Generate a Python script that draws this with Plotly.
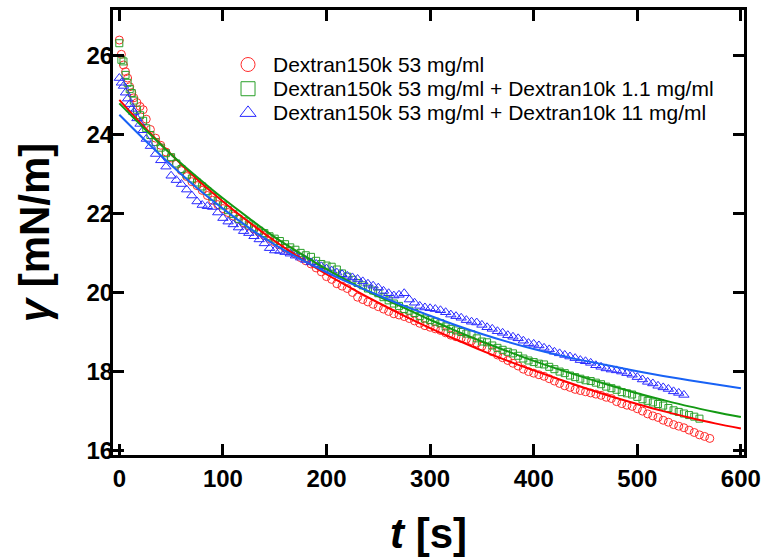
import plotly.graph_objects as go

# ---------------- data ----------------
t_samples = [0, 2, 4, 6, 8, 10, 12, 14, 17, 20, 23, 26, 30, 35, 40, 45, 50, 55, 60, 65,
             70, 75, 80, 85, 90, 95, 100, 105, 110, 115, 120, 125, 130, 135, 140, 145,
             150, 155, 160, 165, 170, 175, 180, 185, 190, 195, 200, 205, 210, 215, 220,
             225, 230, 235, 240, 245, 250, 255, 260, 265, 270, 275, 280, 285, 290, 295,
             300, 305, 310, 315, 320, 325, 330, 335, 340, 345, 350, 355, 360, 365, 370,
             375, 380, 385, 390, 395, 400, 405, 410, 415, 420, 425, 430, 435, 440, 445,
             450, 455, 460, 465, 470, 475, 480, 485, 490, 495, 500, 505, 510, 515, 520,
             525, 530, 535, 540, 545, 550, 555, 560, 565, 570, 575]

gamma_red = [26.38, 26.02, 25.75, 25.58, 25.42, 25.20, 25.05, 24.92, 24.80, 24.70, 24.62,
             24.38, 24.12, 23.90, 23.72, 23.55, 23.40, 23.24, 23.08, 22.93, 22.80, 22.70,
             22.58, 22.45, 22.33, 22.22, 22.12, 22.02, 21.93, 21.85, 21.76, 21.68, 21.60,
             21.52, 21.44, 21.36, 21.28, 21.20, 21.12, 21.05, 20.97, 20.88, 20.80, 20.72,
             20.62, 20.52, 20.40, 20.33, 20.22, 20.16, 20.10, 20.00, 19.88, 19.82, 19.76,
             19.70, 19.64, 19.58, 19.52, 19.46, 19.43, 19.39, 19.34, 19.28, 19.22, 19.16,
             19.12, 19.08, 19.04, 18.98, 18.92, 18.88, 18.84, 18.82, 18.78, 18.72, 18.64,
             18.58, 18.50, 18.42, 18.35, 18.28, 18.21, 18.14, 18.06, 18.00, 17.96, 17.92,
             17.88, 17.82, 17.76, 17.70, 17.64, 17.60, 17.55, 17.52, 17.49, 17.46, 17.43,
             17.40, 17.35, 17.32, 17.24, 17.19, 17.15, 17.12, 17.06, 17.00, 16.93, 16.88,
             16.84, 16.77, 16.72, 16.66, 16.62, 16.58, 16.52, 16.46, 16.40, 16.36, 16.31]

gamma_green = [26.30, 25.88, 25.84, 25.50, 25.30, 25.14, 25.04, 24.85, 24.62, 24.48, 24.34,
               24.15, 23.98, 23.80, 23.66, 23.52, 23.42, 23.26, 23.12, 22.98, 22.88, 22.78,
               22.68, 22.56, 22.42, 22.32, 22.20, 22.08, 21.98, 21.86, 21.80, 21.72, 21.64,
               21.56, 21.50, 21.42, 21.36, 21.30, 21.22, 21.14, 21.08, 21.00, 20.94, 20.90,
               20.80, 20.72, 20.68, 20.65, 20.58, 20.48, 20.40, 20.32, 20.24, 20.18, 20.10,
               20.05, 19.98, 19.88, 19.80, 19.72, 19.66, 19.58, 19.54, 19.48, 19.40, 19.34,
               19.30, 19.26, 19.22, 19.14, 19.08, 19.04, 19.00, 18.96, 18.94, 18.84, 18.76,
               18.74, 18.66, 18.60, 18.55, 18.50, 18.46, 18.40, 18.33, 18.28, 18.24, 18.20,
               18.18, 18.12, 18.06, 18.00, 17.96, 17.90, 17.86, 17.82, 17.78, 17.76, 17.72,
               17.68, 17.62, 17.58, 17.54, 17.48, 17.45, 17.42, 17.36, 17.30, 17.26, 17.22,
               17.18, 17.14, 17.08, 17.02, 16.98, 16.94, 16.90, 16.86, 16.81]

gamma_blue = [25.42, 25.30, 25.22, 25.05, 24.90, 24.76, 24.64, 24.56, 24.40, 24.26, 24.10,
              23.88, 23.70, 23.50, 23.34, 23.18, 22.95, 22.84, 22.74, 22.60, 22.45, 22.30,
              22.21, 22.18, 22.16, 22.02, 21.88, 21.79, 21.72, 21.64, 21.55, 21.50, 21.42,
              21.34, 21.24, 21.12, 21.06, 21.05, 21.02, 20.98, 20.93, 20.88, 20.82, 20.76,
              20.72, 20.66, 20.60, 20.55, 20.50, 20.46, 20.42, 20.38, 20.34, 20.28, 20.22,
              20.17, 20.12, 20.04, 19.98, 19.92, 19.94, 19.98, 19.82, 19.74, 19.66, 19.62,
              19.60, 19.58, 19.55, 19.50, 19.44, 19.40, 19.36, 19.30, 19.26, 19.24, 19.18,
              19.12, 19.08, 19.02, 18.98, 18.92, 18.88, 18.84, 18.78, 18.72, 18.70, 18.66,
              18.60, 18.56, 18.50, 18.46, 18.42, 18.38, 18.34, 18.29, 18.26, 18.22, 18.16,
              18.12, 18.08, 18.05, 18.03, 18.00, 17.96, 17.92, 17.86, 17.80, 17.74, 17.70,
              17.64, 17.60, 17.56, 17.50, 17.46, 17.41]

t_fit = [0, 25, 50, 75, 100, 125, 150, 175, 200, 225, 250, 275, 300, 325, 350, 375,
         400, 425, 450, 475, 500, 525, 550, 575, 600]
fit_red = [24.87, 24.16, 23.49, 22.86, 22.30, 21.78, 21.30, 20.86, 20.46, 20.09, 19.74,
           19.41, 19.10, 18.81, 18.53, 18.27, 18.03, 17.80, 17.58, 17.37, 17.18, 17.00,
           16.84, 16.69, 16.56]
fit_green = [24.78, 24.12, 23.49, 22.92, 22.38, 21.88, 21.40, 20.98, 20.59, 20.23, 19.90,
             19.61, 19.31, 19.03, 18.76, 18.51, 18.27, 18.05, 17.84, 17.64, 17.45, 17.28,
             17.12, 16.98, 16.85]
fit_blue = [24.49, 23.84, 23.22, 22.64, 22.12, 21.64, 21.21, 20.84, 20.51, 20.21, 19.93,
            19.66, 19.41, 19.17, 18.95, 18.75, 18.57, 18.41, 18.27, 18.14, 18.01, 17.89,
            17.78, 17.68, 17.58]

labels = ["Dextran150k 53 mg/ml",
          "Dextran150k 53 mg/ml + Dextran10k 1.1 mg/ml",
          "Dextran150k 53 mg/ml + Dextran10k 11 mg/ml"]

x_ticks = [0, 100, 200, 300, 400, 500, 600]
y_ticks = [16, 18, 20, 22, 24, 26]

# ---------------- styles ----------------
marker_colors = ["#ff2a2a", "#2aa02a", "#2a2aff"]
line_colors = ["#ff0000", "#139913", "#1862f5"]
symbols = ["circle-open", "square-open", "triangle-up-open"]
sizes = [8, 7, 9]
FONT = "Arial, Liberation Sans, sans-serif"

# legend key layout (fractions of the plot area)
LEG_SYM_X = 0.214
LEG_TXT_X = 0.2525
LEG_ROWS_Y = [0.8775, 0.8231, 0.7688]

series = [gamma_red, gamma_green, gamma_blue]
fits = [fit_red, fit_green, fit_blue]

fig = go.Figure()

for g, col, sym, sz, lab in zip(series, marker_colors, symbols, sizes, labels):
    fig.add_trace(go.Scatter(
        x=t_samples[:len(g)], y=g, mode="markers", name=lab, showlegend=False,
        marker=dict(symbol=sym, size=sz, color=col, line=dict(width=1, color=col)),
    ))

for f, col, lab in zip(fits, line_colors, labels):
    fig.add_trace(go.Scatter(
        x=t_fit, y=f, mode="lines", name=lab + " (fit)", showlegend=False,
        line=dict(color=col, width=2, shape="spline"),
    ))

# legend keys: symbols on an overlay axis pair spanning the plot area, text as annotations
fig.add_trace(go.Scatter(
    x=[LEG_SYM_X] * 3, y=LEG_ROWS_Y, xaxis="x2", yaxis="y2", mode="markers",
    showlegend=False, hoverinfo="skip",
    marker=dict(symbol=symbols, size=14, color=marker_colors,
                line=dict(width=1, color=marker_colors)),
))
for lab, yy in zip(labels, LEG_ROWS_Y):
    fig.add_annotation(x=LEG_TXT_X, y=yy, xref="paper", yref="paper", text=lab,
                       showarrow=False, xanchor="left", yanchor="middle", borderpad=0,
                       font=dict(family=FONT, size=21, color="black"))

axis_common = dict(
    showline=True, linewidth=3, linecolor="black", mirror="ticks",
    ticks="inside", ticklen=11, tickwidth=3, tickcolor="black",
    showgrid=False, zeroline=False, automargin=False,
    tickfont=dict(family=FONT, size=24, color="black", weight="bold"),
)

fig.update_xaxes(
    range=[-6.1, 603], tickvals=x_ticks, ticktext=[str(v) for v in x_ticks],
    title=dict(text="<i>t</i> [s]", font=dict(family=FONT, size=42, color="black", weight="bold"),
               standoff=28),
    **axis_common,
)
fig.update_yaxes(
    range=[15.891, 27.14], tickvals=y_ticks, ticktext=[str(v) for v in y_ticks],
    ticklabelstandoff=-8,
    title=dict(text="<i>γ</i> [mN/m]", font=dict(family=FONT, size=42, color="black", weight="bold"),
               standoff=24),
    **axis_common,
)

fig.update_layout(
    width=765, height=557,
    margin=dict(l=113, r=21, t=10, b=102),
    plot_bgcolor="white", paper_bgcolor="white",
    showlegend=False,
    xaxis2=dict(overlaying="x", range=[0, 1], visible=False, fixedrange=True),
    yaxis2=dict(overlaying="y", range=[0, 1], visible=False, fixedrange=True),
)

fig.write_html("out.html")
